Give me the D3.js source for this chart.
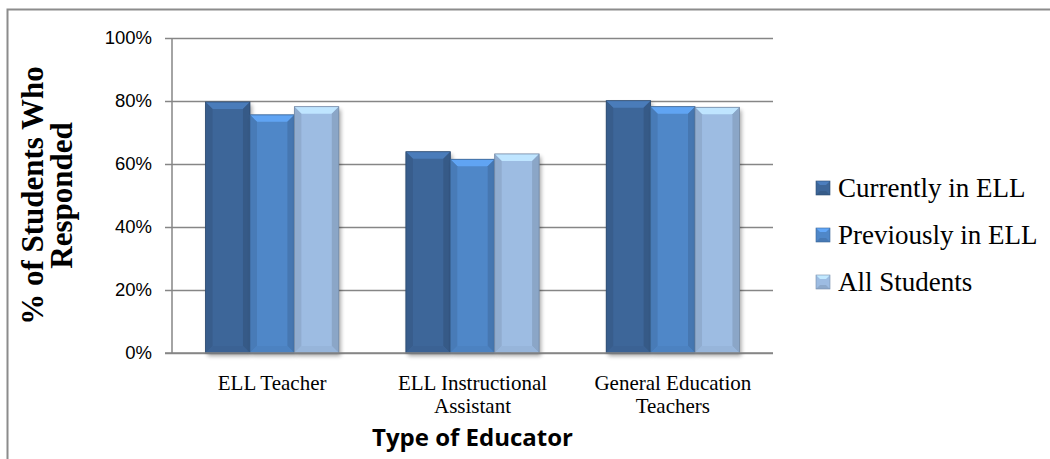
<!DOCTYPE html>
<html>
<head>
<meta charset="utf-8">
<script src="https://cdn.jsdelivr.net/npm/d3@7"></script>
<style>
  body { margin: 0; background: #fff; }
  svg { display: block; }
</style>
</head>
<body>
<div id="chart"></div>
<script>
// data
var categories = ["ELL Teacher", "ELL Instructional Assistant", "General Education Teachers"];
var categoryLines = [["ELL Teacher"], ["ELL Instructional", "Assistant"], ["General Education", "Teachers"]];
var seriesNames = ["Currently in ELL", "Previously in ELL", "All Students"];
var currentlyEll = [79.7, 63.9, 80.1];
var previouslyEll = [75.6, 61.5, 78.2];
var allStudents = [78.2, 63.2, 78.0];
var yTicks = [0, 20, 40, 60, 80, 100];
var seriesColors = ["#3d6699", "#4f87c8", "#9dbce2"];

var seriesValues = [currentlyEll, previouslyEll, allStudents];

var width = 1050, height = 459;
var plot = {left: 172, right: 773, top: 38, bottom: 353};

var svg = d3.select("#chart").append("svg")
  .attr("width", width).attr("height", height);

var defs = svg.append("defs");
var blur = defs.append("filter").attr("id", "shadow")
  .attr("x", "-20%").attr("y", "-20%").attr("width", "140%").attr("height", "140%");
blur.append("feGaussianBlur").attr("stdDeviation", 2);

// outer frame
svg.append("rect")
  .attr("x", 7.5).attr("y", 9.5)
  .attr("width", 1100).attr("height", 500)
  .attr("fill", "none").attr("stroke", "#8c8c8c").attr("stroke-width", 2);

var x0 = d3.scaleBand()
  .domain(categories)
  .range([plot.left, plot.right])
  .paddingInner(0.335)
  .paddingOuter(0.1675);

var x1 = d3.scaleBand()
  .domain(seriesNames)
  .range([0, x0.bandwidth()])
  .padding(0);

var y = d3.scaleLinear().domain([0, 100]).range([plot.bottom, plot.top]);

// gridlines + y axis
var yAxis = d3.axisLeft(y)
  .tickValues(yTicks)
  .tickSize(-(plot.right - plot.left))
  .tickPadding(20)
  .tickFormat(function(d) { return d + "%"; });

var gy = svg.append("g").attr("transform", "translate(" + plot.left + ",0)").call(yAxis);
gy.select(".domain").remove();
gy.selectAll(".tick line")
  .attr("x1", -7)
  .attr("stroke", "#868686").attr("stroke-width", 1.5);
gy.selectAll(".tick text")
  .attr("fill", "#000")
  .style("font-family", "'Liberation Sans', Arial, sans-serif")
  .style("font-size", "18.5px");

svg.append("line")
  .attr("x1", plot.left).attr("x2", plot.left)
  .attr("y1", plot.top).attr("y2", plot.bottom)
  .attr("stroke", "#868686").attr("stroke-width", 1.5);

// bars
function bevelBar(g, bx, by, bw, bh, color) {
  var b = Math.min(7, bh / 2);
  var c = d3.color(color);
  g.append("rect")
    .attr("x", bx + 2).attr("y", by + 3).attr("width", bw).attr("height", bh)
    .attr("fill", "#000").attr("opacity", 0.35).attr("filter", "url(#shadow)");
  g.append("rect")
    .attr("x", bx).attr("y", by).attr("width", bw).attr("height", bh)
    .attr("fill", color);
  var faces = [
    {pts: [[bx, by], [bx + bw, by], [bx + bw - b, by + b], [bx + b, by + b]], fill: c.brighter(0.55)},
    {pts: [[bx, by], [bx + b, by + b], [bx + b, by + bh - b], [bx, by + bh]], fill: c.darker(0.25)},
    {pts: [[bx + bw, by], [bx + bw - b, by + b], [bx + bw - b, by + bh - b], [bx + bw, by + bh]], fill: c.darker(0.35)},
    {pts: [[bx, by + bh], [bx + b, by + bh - b], [bx + bw - b, by + bh - b], [bx + bw, by + bh]], fill: c.darker(0.1)}
  ];
  faces.forEach(function(f) {
    g.append("polygon")
      .attr("points", f.pts.map(function(p) { return p.join(","); }).join(" "))
      .attr("fill", f.fill);
  });
  g.append("rect")
    .attr("x", bx).attr("y", by).attr("width", bw).attr("height", bh)
    .attr("fill", "none").attr("stroke", c.darker(0.9)).attr("stroke-width", 0.8);
}

var barsG = svg.append("g");
categories.forEach(function(cat, i) {
  seriesNames.forEach(function(s, j) {
    var v = seriesValues[j][i];
    bevelBar(barsG, x0(cat) + x1(s), y(v), x1.bandwidth(), y(0) - y(v), seriesColors[j]);
  });
});

// x axis line
svg.append("line")
  .attr("x1", plot.left - 7).attr("x2", plot.right)
  .attr("y1", plot.bottom).attr("y2", plot.bottom)
  .attr("stroke", "#868686").attr("stroke-width", 1.5);

// category labels
categories.forEach(function(cat, i) {
  var t = svg.append("text")
    .attr("x", x0(cat) + x0.bandwidth() / 2)
    .attr("y", 390)
    .attr("text-anchor", "middle")
    .style("font-family", "'Liberation Serif', 'Times New Roman', serif")
    .style("font-size", "21px");
  categoryLines[i].forEach(function(line, k) {
    t.append("tspan").attr("x", x0(cat) + x0.bandwidth() / 2).attr("dy", k ? 23 : 0).text(line);
  });
});

// axis titles
svg.append("text")
  .attr("x", (plot.left + plot.right) / 2)
  .attr("y", 446)
  .attr("text-anchor", "middle")
  .style("font-family", "'Open Sans', 'Liberation Sans', sans-serif")
  .style("font-weight", "bold")
  .style("font-size", "24px")
  .text("Type of Educator");

var yt = svg.append("text")
  .attr("transform", "translate(0," + ((plot.top + plot.bottom) / 2) + ") rotate(-90)")
  .attr("text-anchor", "middle")
  .style("font-family", "'Liberation Serif', 'Times New Roman', serif")
  .style("font-weight", "bold")
  .style("font-size", "31px");
yt.append("tspan").attr("x", 0).attr("y", 43).text("% of Students Who");
yt.append("tspan").attr("x", 0).attr("y", 72).text("Responded");

// legend
var legend = svg.append("g").attr("transform", "translate(816,188)");
seriesNames.forEach(function(s, j) {
  var g = legend.append("g").attr("transform", "translate(0," + (j * 47) + ")");
  var c = d3.color(seriesColors[j]);
  var sz = 14, b = 4;
  g.append("rect").attr("x", 0).attr("y", -7).attr("width", sz).attr("height", sz).attr("fill", seriesColors[j]);
  g.append("polygon")
    .attr("points", [[0, -7], [sz, -7], [sz - b, -7 + b], [b, -7 + b]].map(function(p) { return p.join(","); }).join(" "))
    .attr("fill", c.brighter(0.6));
  g.append("polygon")
    .attr("points", [[0, 7], [b, 7 - b], [sz - b, 7 - b], [sz, 7]].map(function(p) { return p.join(","); }).join(" "))
    .attr("fill", c.darker(0.3));
  g.append("rect").attr("x", 0).attr("y", -7).attr("width", sz).attr("height", sz)
    .attr("fill", "none").attr("stroke", c.darker(0.8)).attr("stroke-width", 0.6);
  g.append("text")
    .attr("x", 22).attr("y", 0).attr("dy", "0.35em")
    .style("font-family", "'Liberation Serif', 'Times New Roman', serif")
    .style("font-size", "27px")
    .text(s);
});
</script>
</body>
</html>
